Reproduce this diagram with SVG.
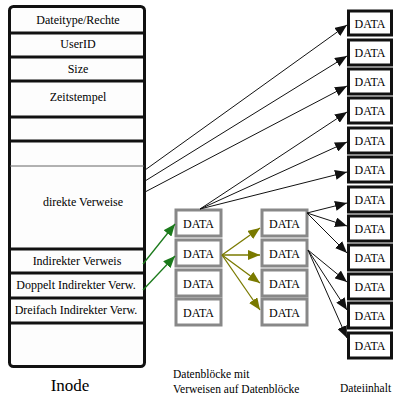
<svg xmlns="http://www.w3.org/2000/svg" width="400" height="400" viewBox="0 0 400 400" font-family="'Liberation Serif', 'Times New Roman', 'DejaVu Serif', serif">
<style>
text{font-family:'Liberation Serif','Times New Roman','DejaVu Serif',serif;font-size:12px;fill:#000}
.c{text-anchor:middle}
.row{stroke:#111;stroke-width:3}
.gbox{fill:#fff;stroke:#888;stroke-width:3}
.bbox{fill:#fff;stroke:#111;stroke-width:3}
.k{stroke:#111;stroke-width:1;fill:none;marker-end:url(#ak)}
.g{stroke:#1b7a1b;stroke-width:1.3;fill:none;marker-end:url(#ag)}
.o{stroke:#7a7a00;stroke-width:1.3;fill:none;marker-end:url(#ao)}
.lbl{font-size:11.5px}
</style>
<defs>
<marker id="ak" markerUnits="userSpaceOnUse" markerWidth="13" markerHeight="10" refX="12" refY="5" orient="auto"><path d="M0,0L12,5L0,10z" fill="#111"/></marker>
<marker id="ag" markerUnits="userSpaceOnUse" markerWidth="13" markerHeight="10" refX="12" refY="5" orient="auto"><path d="M0,0L12,5L0,10z" fill="#1b7a1b"/></marker>
<marker id="ao" markerUnits="userSpaceOnUse" markerWidth="13" markerHeight="10" refX="12" refY="5" orient="auto"><path d="M0,0L12,5L0,10z" fill="#7a7a00"/></marker>
</defs>
<rect width="400" height="400" fill="#fff"/>
<g id="inode">
<rect x="9.5" y="6.5" width="135" height="360" rx="4" fill="#fdfdfd" stroke="#111" stroke-width="3"/>
<line class="row" x1="9" y1="33" x2="145" y2="33"/>
<line class="row" x1="9" y1="57" x2="145" y2="57"/>
<line class="row" x1="9" y1="81" x2="145" y2="81"/>
<line class="row" x1="9" y1="117" x2="145" y2="117"/>
<line class="row" x1="9" y1="141" x2="145" y2="141"/>
<line x1="10" y1="166" x2="144" y2="166" stroke="#666" stroke-width="1"/>
<line class="row" x1="9" y1="249" x2="145" y2="249"/>
<line class="row" x1="9" y1="273" x2="145" y2="273"/>
<line class="row" x1="9" y1="298" x2="145" y2="298"/>
<line class="row" x1="9" y1="323" x2="145" y2="323"/>
<text class="c" x="78" y="24">Dateitype/Rechte</text>
<text class="c" x="78" y="48">UserID</text>
<text class="c" x="78" y="73">Size</text>
<text class="c" x="78" y="101">Zeitstempel</text>
<text class="c" x="83" y="206">direkte Verweise</text>
<text class="c" x="77" y="265">Indirekter Verweis</text>
<text class="c" x="76" y="289">Doppelt Indirekter Verw.</text>
<text class="c" x="76" y="314">Dreifach Indirekter Verw.</text>
<text class="c" x="70" y="391" style="font-size:17px">Inode</text>
</g>
<g id="ind1">
<rect class="gbox" x="176" y="210" width="45" height="26"/><text class="c" x="198.5" y="228">DATA</text>
<rect class="gbox" x="176" y="240" width="45" height="26"/><text class="c" x="198.5" y="258">DATA</text>
<rect class="gbox" x="176" y="270" width="45" height="26"/><text class="c" x="198.5" y="288">DATA</text>
<rect class="gbox" x="176" y="299" width="45" height="26"/><text class="c" x="198.5" y="317">DATA</text>
</g>
<g id="ind2">
<rect class="gbox" x="262" y="210" width="45" height="26"/><text class="c" x="284.5" y="228">DATA</text>
<rect class="gbox" x="262" y="240" width="45" height="26"/><text class="c" x="284.5" y="258">DATA</text>
<rect class="gbox" x="262" y="270" width="45" height="26"/><text class="c" x="284.5" y="288">DATA</text>
<rect class="gbox" x="262" y="299" width="45" height="26"/><text class="c" x="284.5" y="317">DATA</text>
</g>
<g id="data">
<rect class="bbox" x="348.5" y="11" width="43" height="24"/><text class="c" x="370" y="28">DATA</text>
<rect class="bbox" x="348.5" y="40" width="43" height="25"/><text class="c" x="370" y="57">DATA</text>
<rect class="bbox" x="348.5" y="69" width="43" height="25"/><text class="c" x="370" y="86">DATA</text>
<rect class="bbox" x="348.5" y="98" width="43" height="25"/><text class="c" x="370" y="115">DATA</text>
<rect class="bbox" x="348.5" y="128" width="43" height="25"/><text class="c" x="370" y="145">DATA</text>
<rect class="bbox" x="348.5" y="157" width="43" height="25"/><text class="c" x="370" y="174">DATA</text>
<rect class="bbox" x="348.5" y="187" width="43" height="25"/><text class="c" x="370" y="204">DATA</text>
<rect class="bbox" x="348.5" y="216" width="43" height="25"/><text class="c" x="370" y="233">DATA</text>
<rect class="bbox" x="348.5" y="245" width="43" height="25"/><text class="c" x="370" y="262">DATA</text>
<rect class="bbox" x="348.5" y="274" width="43" height="25"/><text class="c" x="370" y="291">DATA</text>
<rect class="bbox" x="348.5" y="303" width="43" height="25"/><text class="c" x="370" y="320">DATA</text>
<rect class="bbox" x="348.5" y="333" width="43" height="25"/><text class="c" x="370" y="350">DATA</text>
</g>
<g id="connectors">
<line class="k" x1="145" y1="170" x2="347" y2="25"/>
<line class="k" x1="145" y1="181" x2="347" y2="56"/>
<line class="k" x1="145" y1="192" x2="347" y2="86"/>
<line class="k" x1="200" y1="209" x2="347" y2="112"/>
<line class="k" x1="200" y1="209" x2="347" y2="142"/>
<line class="k" x1="200" y1="209" x2="347" y2="172"/>
<line class="k" x1="307" y1="213" x2="347" y2="203"/>
<line class="k" x1="307" y1="213" x2="347" y2="226"/>
<line class="k" x1="307" y1="213" x2="347" y2="253"/>
<line class="k" x1="308" y1="250" x2="347" y2="282"/>
<line class="k" x1="308" y1="250" x2="347" y2="310"/>
<line class="k" x1="308" y1="250" x2="347" y2="338"/>
<line class="g" x1="143" y1="264" x2="175" y2="224"/>
<line class="g" x1="143" y1="290" x2="175" y2="256"/>
<line class="o" x1="222" y1="255" x2="260" y2="228"/>
<line class="o" x1="222" y1="255" x2="260" y2="255"/>
<line class="o" x1="222" y1="255" x2="260" y2="283"/>
<line class="o" x1="222" y1="255" x2="260" y2="310"/>
</g>
<g id="labels">
<text class="lbl" x="173" y="378">Datenblöcke mit</text>
<text class="lbl" x="173" y="393">Verweisen auf Datenblöcke</text>
<text class="lbl" x="340" y="392">Dateiinhalt</text>
</g>
</svg>
